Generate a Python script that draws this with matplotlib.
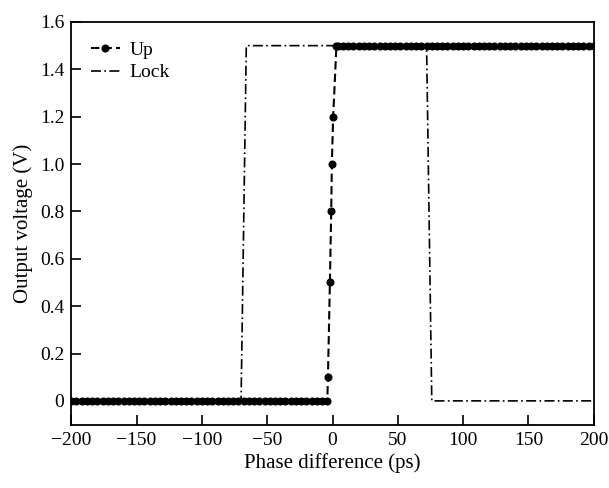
import numpy as np
import matplotlib
matplotlib.use('Agg')
import matplotlib.pyplot as plt

plt.rcParams['font.family'] = ['Liberation Serif', 'DejaVu Serif']

# Up: 0 V up to about -4 ps, fast rise near 0, then 1.5 V
up_x = list(range(-200, -3, 4)) + [-3.5, -2, -1, -0.5, 0.5, 3] + list(range(4, 201, 4))
up_y = [0.0] * 50 + [0.1, 0.5, 0.8, 1.0, 1.2, 1.5] + [1.5] * 50

# Lock: high inside the lock window
lock_x = [-200, -70, -66, 72, 76, 200]
lock_y = [0.0, 0.0, 1.5, 1.5, 0.0, 0.0]

fig, ax = plt.subplots(figsize=(6.09, 4.88), dpi=100)
fig.subplots_adjust(left=0.117, right=0.975, top=0.955, bottom=0.13)

ax.plot(lock_x, lock_y, color='black', lw=1.2, linestyle=(0, (6, 2, 1, 2)), label='Lock')
ax.plot(up_x, up_y, color='black', lw=1.5, linestyle=(0, (4, 2)), marker='o', ms=4.8, label='Up')

ax.set_xlim(-200, 200)
ax.set_ylim(-0.1, 1.6)
ax.set_xticks(np.arange(-200, 201, 50))
ax.set_yticks(np.arange(0, 1.61, 0.2))
ax.set_yticklabels(['0'] + [f'{v:.1f}' for v in np.arange(0.2, 1.61, 0.2)])
ax.tick_params(direction='in', length=7, width=1.2, labelsize=14, pad=5, top=False, right=False)
for s in ax.spines.values():
    s.set_linewidth(1.3)

ax.set_xlabel('Phase difference (ps)', fontsize=15, labelpad=3)
ax.set_ylabel('Output voltage (V)', fontsize=15, labelpad=5)

h, l = ax.get_legend_handles_labels()
ax.legend(h[::-1], l[::-1], loc='upper left', frameon=False, fontsize=14,
          handlelength=1.5, handletextpad=0.5, borderaxespad=0.6, labelspacing=0.25)

fig.savefig('out.png', dpi=100)
